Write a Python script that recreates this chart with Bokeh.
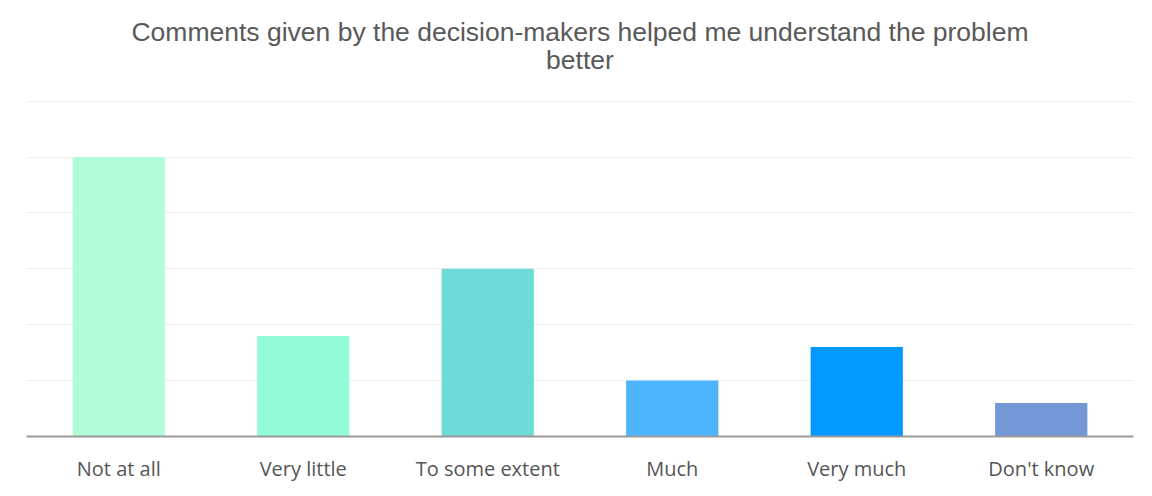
from bokeh.plotting import figure
from bokeh.models import FactorRange, Range1d, ColumnDataSource, FixedTicker, Title
from bokeh.embed import file_html
from bokeh.resources import INLINE

categories = ["Not at all", "Very little", "To some extent", "Much", "Very much", "Don't know"]
values = [25, 9, 15, 5, 8, 3]
colors = ["#b2fdd8", "#93fcd9", "#6fdbd9", "#4eb4fd", "#0399fe", "#7497d6"]
grid_ticks = [5, 10, 15, 20, 25, 30]
title_lines = ["Comments given by the decision-makers helped me understand the problem", "better"]

src = ColumnDataSource(dict(cat=categories, val=values, color=colors))

p = figure(width=1144, height=488, x_range=FactorRange(*categories, range_padding=0),
           y_range=Range1d(0, 30.06), output_backend="svg", toolbar_location=None,
           min_border_left=26, min_border_right=11, min_border_top=100, min_border_bottom=52)

def style_title(t):
    t.align = "center"
    t.offset = 6
    t.text_font = "Liberation Sans"
    t.text_font_style = "normal"
    t.text_font_size = "26.5px"
    t.text_color = "#595959"

p.title.text = title_lines[0]
style_title(p.title)
p.title.standoff = -60
t2 = Title(text=title_lines[1])
style_title(t2)
t2.standoff = 52
p.add_layout(t2, "above")

p.vbar(x="cat", top="val", width=0.5, color="color", source=src, line_color=None)

p.yaxis.visible = False
p.ygrid.ticker = FixedTicker(ticks=grid_ticks)
p.ygrid.grid_line_color = "#f0f0f0"
p.ygrid.grid_line_width = 1
p.xgrid.grid_line_color = None
p.outline_line_color = None

ax = p.xaxis[0]
ax.axis_line_color = "#9a9a9a"
ax.axis_line_width = 2
ax.major_tick_line_color = None
ax.minor_tick_line_color = None
ax.major_label_text_font = "Open Sans"
ax.major_label_text_font_size = "20px"
ax.major_label_text_color = "#555555"
ax.major_label_standoff = 12

open("out.html", "w").write(file_html(p, INLINE))
